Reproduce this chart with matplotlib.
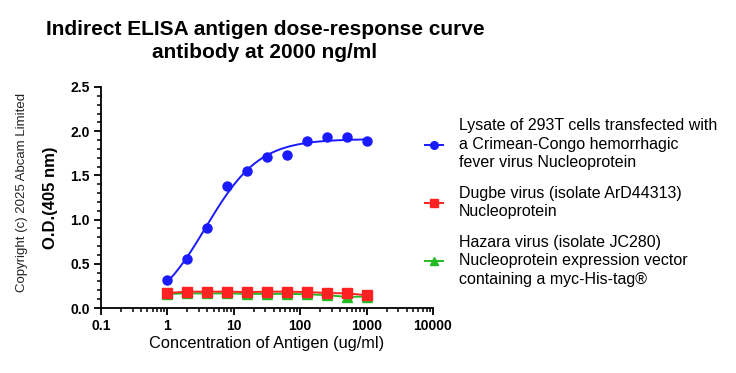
import numpy as np
import matplotlib
matplotlib.use("Agg")
import matplotlib.pyplot as plt
from matplotlib.ticker import FixedLocator, LogLocator, NullFormatter, MultipleLocator
from matplotlib.lines import Line2D

plt.rcParams['font.family'] = ['Liberation Sans', 'DejaVu Sans']

conc = [1, 2, 4, 8, 16, 32, 64, 128, 256, 512, 1000]
cchf = [0.32, 0.55, 0.905, 1.385, 1.55, 1.71, 1.735, 1.885, 1.93, 1.94, 1.89]
dugbe = [0.17, 0.185, 0.185, 0.185, 0.18, 0.185, 0.185, 0.18, 0.17, 0.165, 0.145]
hazara = [0.16, 0.165, 0.165, 0.165, 0.16, 0.16, 0.16, 0.155, 0.145, 0.125, 0.13]

labels = ["Lysate of 293T cells transfected with\na Crimean-Congo hemorrhagic\nfever virus Nucleoprotein",
          "Dugbe virus (isolate ArD44313)\nNucleoprotein",
          "Hazara virus (isolate JC280)\nNucleoprotein expression vector\ncontaining a myc-His-tag®"]
title = "Indirect ELISA antigen dose-response curve\nantibody at 2000 ng/ml"

# 4PL fit for the first series (grid search over EC50/hill, linear LSQ for bottom/top)
x = np.array(conc, float); y = np.array(cchf, float)
best = None
for lec in np.linspace(np.log10(1), np.log10(30), 300):
    for h in np.linspace(0.5, 3, 126):
        f = 1.0 / (1.0 + (10**lec / x) ** h)
        A = np.column_stack([1 - f, f])
        coef, *_ = np.linalg.lstsq(A, y, rcond=None)
        r = np.sum((A @ coef - y) ** 2)
        if best is None or r < best[0]:
            best = (r, lec, h, coef)
_, lec, h, (bot, top) = best
xs = np.logspace(0, 3, 300)
ys = bot + (top - bot) / (1 + (10**lec / xs) ** h)

fig = plt.figure(figsize=(7.36, 3.73), dpi=100)
ax = fig.add_axes([101/736, 1 - 308/373, (433-101)/736, (308-87)/373])

ax.plot(conc, hazara, color='#22bb22', lw=1.4, marker='^', ms=6.5, zorder=3)
ax.plot(conc, dugbe, color='#ff2222', lw=1.4, marker='s', ms=6.5, zorder=4)
ax.plot(xs, ys, color='#1a1aff', lw=1.4, zorder=5)
ax.plot(conc, cchf, color='#1a1aff', lw=0, marker='o', ms=6.5, zorder=6)

ax.set_xscale('log')
ax.set_xlim(0.1, 10000)
ax.set_ylim(0, 2.5)
ax.xaxis.set_major_locator(FixedLocator([0.1, 1, 10, 100, 1000, 10000]))
ax.set_xticklabels(['0.1', '1', '10', '100', '1000', '10000'])
ax.xaxis.set_minor_locator(LogLocator(base=10, subs=np.arange(2, 10)))
ax.xaxis.set_minor_formatter(NullFormatter())
ax.yaxis.set_major_locator(MultipleLocator(0.5))
ax.yaxis.set_minor_locator(MultipleLocator(0.1))
ax.yaxis.set_major_formatter(plt.FuncFormatter(lambda v, p: f"{v:.1f}"))

for s in ['top', 'right']:
    ax.spines[s].set_visible(False)
for s in ['left', 'bottom']:
    ax.spines[s].set_linewidth(1.3)
ax.tick_params(which='major', length=5, width=1.3, labelsize=10, pad=3)
ax.tick_params(which='minor', length=3, width=1.1)
for lab in ax.get_xticklabels() + ax.get_yticklabels():
    lab.set_fontweight('bold')

ax.set_xlabel("Concentration of Antigen (ug/ml)", fontsize=11.8, labelpad=2)
ax.set_ylabel("O.D.(405 nm)", fontsize=12, fontweight='bold', labelpad=9)

fig.text(265/736, 1 - 41/373, title, ha='center', va='center', fontsize=15,
         fontweight='bold', linespacing=1.3)
fig.text(22/736, 1 - 192/373, "Copyright (c) 2025 Abcam Limited", rotation=90,
         ha='center', va='center', fontsize=9.5, color='#222222')

hb = Line2D([], [], color='#1a1aff', lw=1.4, marker='o', ms=5.5)
hr = Line2D([], [], color='#ff2222', lw=1.4, marker='s', ms=5.5)
hg = Line2D([], [], color='#22bb22', lw=1.4, marker='^', ms=5.5)
leg = fig.legend([hb, hr, hg], labels, loc='upper left', bbox_to_anchor=(425/736, 1 - 118/373),
                 frameon=False, fontsize=11.5, handlelength=1.1, handletextpad=1.0,
                 labelspacing=0.97, borderpad=0, borderaxespad=0)
for t in leg.get_texts():
    t.set_linespacing(1.3)

fig.savefig("out.png", dpi=100)
